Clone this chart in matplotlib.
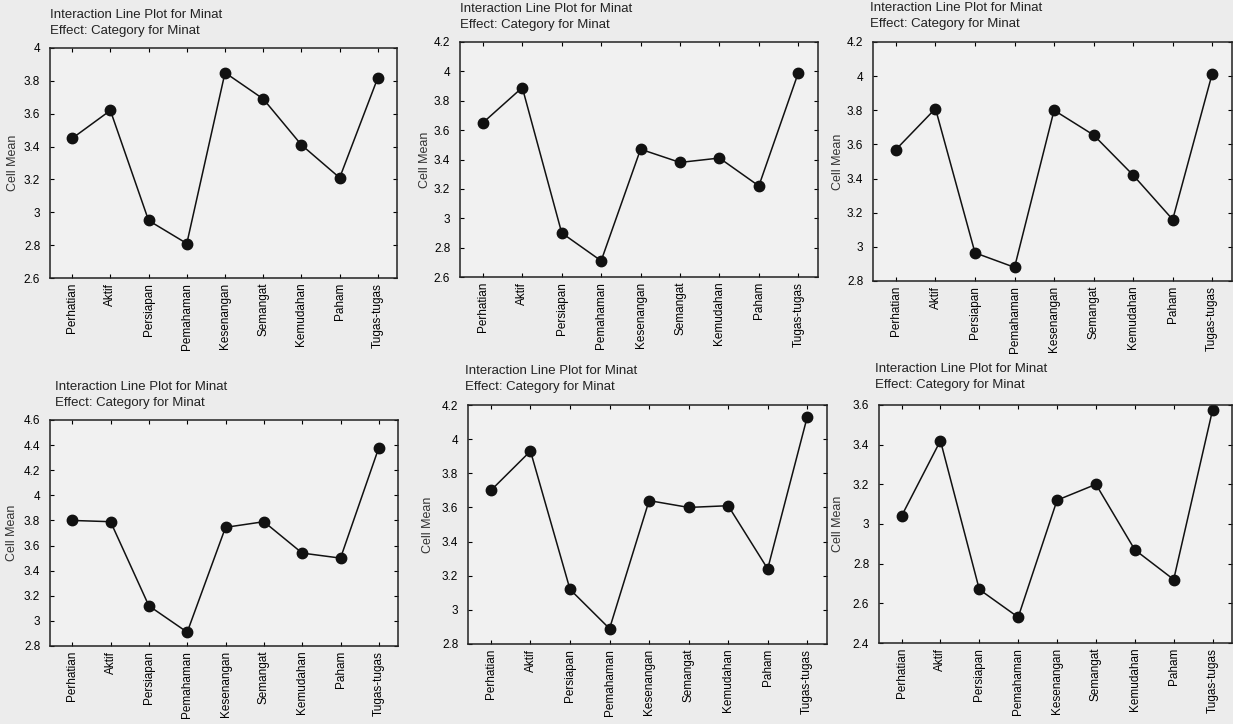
import numpy as np
import matplotlib.pyplot as plt
from matplotlib.ticker import FormatStrFormatter, MultipleLocator

plt.rcParams['font.family'] = ['Liberation Sans', 'DejaVu Sans']

categories = ["Perhatian", "Aktif", "Persiapan", "Pemahaman", "Kesenangan",
              "Semangat", "Kemudahan", "Paham", "Tugas-tugas"]

means_1 = [3.45, 3.62, 2.95, 2.81, 3.85, 3.69, 3.41, 3.21, 3.82]
means_2 = [3.65, 3.89, 2.90, 2.71, 3.47, 3.38, 3.41, 3.22, 3.99]
means_3 = [3.57, 3.81, 2.965, 2.88, 3.80, 3.655, 3.42, 3.16, 4.015]
means_4 = [3.80, 3.79, 3.12, 2.91, 3.745, 3.79, 3.54, 3.50, 4.38]
means_5 = [3.70, 3.93, 3.12, 2.89, 3.64, 3.60, 3.61, 3.24, 4.13]
means_6 = [3.04, 3.42, 2.67, 2.53, 3.12, 3.20, 2.87, 2.72, 3.575]

title1 = "Interaction Line Plot for Minat"
title2 = "Effect: Category for Minat"
ylabel = "Cell Mean"

W, H = 1233, 724
fig = plt.figure(figsize=(W / 100, H / 100), dpi=100)
fig.patch.set_facecolor('#ececec')

# pixel boxes: left, right, top, bottom ; y limits ; title position ; ylabel x
panels = [
    (means_1, (50, 397, 48, 278), (2.6, 4.0), (50, 9), 13),
    (means_2, (460, 818, 42, 277), (2.6, 4.2), (460, 3), 425),
    (means_3, (873, 1232, 42, 281), (2.8, 4.2), (870, 2), 838),
    (means_4, (50, 398, 420, 646), (2.8, 4.6), (55, 381), 12),
    (means_5, (468, 827, 405, 644), (2.8, 4.2), (465, 365), 428),
    (means_6, (879, 1232, 405, 643), (2.4, 3.6), (875, 363), 838),
]

x = np.arange(len(categories))
for vals, (l, r, t, b), ylim, (tx, ty), ylx in panels:
    ax = fig.add_axes([l / W, 1 - b / H, (r - l) / W, (b - t) / H])
    ax.set_facecolor('#f1f1f1')
    ax.plot(x, vals, color='#111111', lw=1.1, marker='o', ms=7.5,
            mfc='#111111', mec='#111111')
    ax.set_xlim(-0.58, 8.5)
    ax.set_ylim(*ylim)
    ax.yaxis.set_major_locator(MultipleLocator(0.2))
    ax.yaxis.set_major_formatter(FormatStrFormatter('%g'))
    ax.set_xticks(x)
    ax.set_xticklabels(categories, rotation=90, fontsize=8.5)
    ax.tick_params(axis='y', labelsize=8.5, direction='in', right=True, length=3, pad=7)
    ax.tick_params(axis='x', direction='in', top=True, length=3)
    for s in ax.spines.values():
        s.set_linewidth(1.1)
        s.set_color('#222222')
    fig.text(tx / W, 1 - ty / H, title1 + "\n" + title2, fontsize=9.5,
             va='top', ha='left', linespacing=1.45, color='#222222')
    fig.text(ylx / W, 1 - (t + b) / 2 / H, ylabel, rotation=90, fontsize=9,
             va='center', ha='center', color='#333333')

fig.savefig('out.png', dpi=100, facecolor=fig.get_facecolor())
